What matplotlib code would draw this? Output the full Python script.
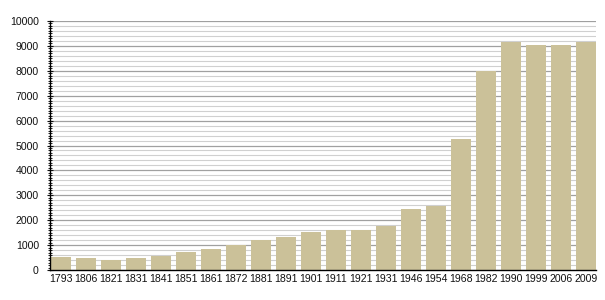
import matplotlib
matplotlib.use("Agg")
import matplotlib.pyplot as plt
from matplotlib.ticker import MultipleLocator

years = ["1793", "1806", "1821", "1831", "1841", "1851", "1861", "1872", "1881", "1891",
         "1901", "1911", "1921", "1931", "1946", "1954", "1968", "1982", "1990", "1999",
         "2006", "2009"]
population = [510, 500, 400, 500, 560, 720, 840, 990, 1205, 1325,
              1540, 1600, 1600, 1780, 2450, 2580, 5260, 7980, 9160, 9040,
              9040, 9160]

plt.rcParams['font.family'] = ['Liberation Sans', 'DejaVu Sans']

fig = plt.figure(figsize=(6.05, 3.0), dpi=100)
ax = fig.add_axes([0.0826, 0.10, 0.9024, 0.83])

x = list(range(len(years)))
ax.bar(x, population, width=0.8, color='#cbc199', zorder=3)

ax.set_ylim(0, 10000)
ax.set_xlim(-0.44, len(years) - 1 + 0.4)
ax.yaxis.set_major_locator(MultipleLocator(1000))
ax.yaxis.set_minor_locator(MultipleLocator(100))
ax.grid(which='major', axis='y', color='#a0a0a0', linewidth=0.9, zorder=1)
for v in range(200, 10000, 200):
    if v % 1000:
        ax.axhline(v, color='#d0d0d0', linewidth=0.8, zorder=1)

ax.set_xticks(x)
ax.set_xticklabels(years)
ax.tick_params(axis='x', length=0, labelsize=7.6, pad=3, colors='#111111')
ax.tick_params(axis='y', which='major', length=4, direction='inout', labelsize=7.6, colors='#111111', pad=6)
ax.tick_params(axis='y', which='minor', length=2.5, direction='inout')

for s in ['top', 'right']:
    ax.spines[s].set_visible(False)
for s in ['left', 'bottom']:
    ax.spines[s].set_color('black')
    ax.spines[s].set_linewidth(1.0)
    ax.spines[s].set_zorder(4)

fig.savefig('out.png', dpi=100)
